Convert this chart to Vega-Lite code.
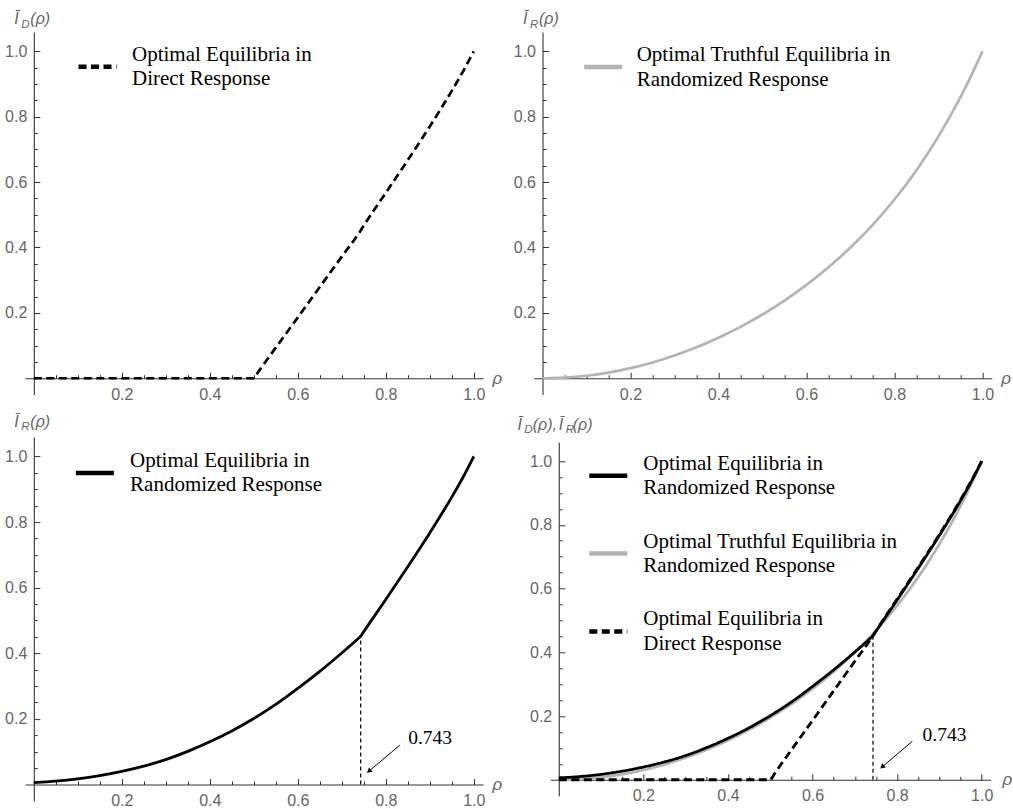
{
  "$schema": "https://vega.github.io/schema/vega-lite/v6.json",
  "autosize": {"type": "pad"},
  "padding": {"left": 4, "top": 11, "right": 0, "bottom": 0},
  "background": "white",
  "datasets": {
    "curves": [
      {"rho": 0, "value": 0, "series": "Truthful"},
      {"rho": 0.05, "value": 0.0019, "series": "Truthful"},
      {"rho": 0.1, "value": 0.0077, "series": "Truthful"},
      {"rho": 0.15, "value": 0.0173, "series": "Truthful"},
      {"rho": 0.2, "value": 0.0308, "series": "Truthful"},
      {"rho": 0.25, "value": 0.0481, "series": "Truthful"},
      {"rho": 0.3, "value": 0.0695, "series": "Truthful"},
      {"rho": 0.35, "value": 0.0946, "series": "Truthful"},
      {"rho": 0.4, "value": 0.1238, "series": "Truthful"},
      {"rho": 0.45, "value": 0.1572, "series": "Truthful"},
      {"rho": 0.5, "value": 0.195, "series": "Truthful"},
      {"rho": 0.55, "value": 0.2376, "series": "Truthful"},
      {"rho": 0.6, "value": 0.2855, "series": "Truthful"},
      {"rho": 0.65, "value": 0.3393, "series": "Truthful"},
      {"rho": 0.7, "value": 0.4, "series": "Truthful"},
      {"rho": 0.75, "value": 0.4686, "series": "Truthful"},
      {"rho": 0.8, "value": 0.5467, "series": "Truthful"},
      {"rho": 0.85, "value": 0.6363, "series": "Truthful"},
      {"rho": 0.9, "value": 0.7397, "series": "Truthful"},
      {"rho": 0.95, "value": 0.8597, "series": "Truthful"},
      {"rho": 0.975, "value": 0.9271, "series": "Truthful"},
      {"rho": 1, "value": 1, "series": "Truthful"},
      {"rho": 0, "value": 0.006, "series": "Randomized"},
      {"rho": 0.05, "value": 0.01, "series": "Randomized"},
      {"rho": 0.1, "value": 0.017, "series": "Randomized"},
      {"rho": 0.15, "value": 0.027, "series": "Randomized"},
      {"rho": 0.2, "value": 0.04, "series": "Randomized"},
      {"rho": 0.25, "value": 0.056, "series": "Randomized"},
      {"rho": 0.3, "value": 0.076, "series": "Randomized"},
      {"rho": 0.35, "value": 0.101, "series": "Randomized"},
      {"rho": 0.4, "value": 0.13, "series": "Randomized"},
      {"rho": 0.45, "value": 0.163, "series": "Randomized"},
      {"rho": 0.5, "value": 0.201, "series": "Randomized"},
      {"rho": 0.55, "value": 0.244, "series": "Randomized"},
      {"rho": 0.6, "value": 0.293, "series": "Randomized"},
      {"rho": 0.65, "value": 0.345, "series": "Randomized"},
      {"rho": 0.7, "value": 0.401, "series": "Randomized"},
      {"rho": 0.735, "value": 0.442, "series": "Randomized"},
      {"rho": 0.743, "value": 0.452, "series": "Randomized"},
      {"rho": 0.75, "value": 0.466, "series": "Randomized"},
      {"rho": 0.8, "value": 0.564, "series": "Randomized"},
      {"rho": 0.85, "value": 0.664, "series": "Randomized"},
      {"rho": 0.9, "value": 0.767, "series": "Randomized"},
      {"rho": 0.95, "value": 0.876, "series": "Randomized"},
      {"rho": 0.975, "value": 0.935, "series": "Randomized"},
      {"rho": 1, "value": 1, "series": "Randomized"},
      {"rho": 0, "value": 0, "series": "Direct"},
      {"rho": 0.1, "value": 0, "series": "Direct"},
      {"rho": 0.2, "value": 0, "series": "Direct"},
      {"rho": 0.3, "value": 0, "series": "Direct"},
      {"rho": 0.4, "value": 0, "series": "Direct"},
      {"rho": 0.49, "value": 0, "series": "Direct"},
      {"rho": 0.5, "value": 0, "series": "Direct"},
      {"rho": 0.51, "value": 0.019, "series": "Direct"},
      {"rho": 0.6, "value": 0.186, "series": "Direct"},
      {"rho": 0.7, "value": 0.372, "series": "Direct"},
      {"rho": 0.743, "value": 0.452, "series": "Direct"},
      {"rho": 0.75, "value": 0.467, "series": "Direct"},
      {"rho": 0.8, "value": 0.567, "series": "Direct"},
      {"rho": 0.85, "value": 0.667, "series": "Direct"},
      {"rho": 0.9, "value": 0.77, "series": "Direct"},
      {"rho": 0.95, "value": 0.879, "series": "Direct"},
      {"rho": 0.975, "value": 0.937, "series": "Direct"},
      {"rho": 1, "value": 1, "series": "Direct"}
    ]
  },
  "config": {
    "view": {"stroke": null},
    "axis": {
      "grid": false, "labelFlush": false, "labelOverlap": false, "labelBound": false,
      "domainColor": "#333333", "domainWidth": 1.1, "tickColor": "#333333", "tickWidth": 1,
      "labelColor": "#666666", "labelFont": "Liberation Sans", "labelFontSize": 16
    },
    "legend": {
      "symbolType": "stroke", "symbolSize": 1444, "symbolStrokeWidth": 4.5,
      "labelFont": "Liberation Serif", "labelFontSize": 21, "labelColor": "black",
      "labelLimit": 600, "padding": 0, "labelBaseline": "line-bottom"
    },
    "style": {"guide-label": {"lineHeight": 24.5}}
  },
  "spacing": 10,
  "vconcat": [
    {
      "bounds": "flush",
      "spacing": 50.7,
      "resolve": {"scale": {"color": "independent", "strokeDash": "independent"}},
      "hconcat": [
        {
          "width": 458, "height": 362.6,
          "resolve": {"axis": {"x": "independent", "y": "independent"}},
          "layer": [
            {
              "data": {"name": "curves"},
              "transform": [{"filter": {"field": "series", "oneOf": ["Direct"]}}],
              "mark": {"type": "line", "strokeWidth": 2.7, "interpolate": "monotone"},
              "encoding": {
                "x": {"field": "rho", "type": "quantitative",
                  "scale": {"domain": [-0.02, 1.021], "nice": false, "zero": false},
                  "axis": {"orient": "bottom", "title": null, "offset": -16.35, "values": [0.2, 0.4, 0.6, 0.8, 1.0], "format": ".1f", "tickSize": -6, "labelPadding": 14}},
                "y": {"field": "value", "type": "quantitative",
                  "scale": {"domain": [-0.05, 1.059], "nice": false, "zero": false},
                  "axis": {"orient": "left", "title": null, "offset": -8.8, "values": [0.2, 0.4, 0.6, 0.8, 1.0], "format": ".1f", "tickSize": -6, "labelPadding": 13}},
                "color": {"field": "series", "type": "nominal",
                  "scale": {"domain": ["Direct"], "range": ["black"]},
                  "legend": {"title": null, "orient": "none", "legendX": 51, "legendY": 13.3, "direction": "vertical", "labelOffset": 13,
                    "labelExpr": "datum.label == 'Direct' ? ['Optimal Equilibria in', 'Direct Response'] : datum.label == 'Randomized' ? ['Optimal Equilibria in', 'Randomized Response'] : ['Optimal Truthful Equilibria in', 'Randomized Response']"}},
                "strokeDash": {"field": "series", "type": "nominal",
                  "scale": {"domain": ["Direct"], "range": [[8, 4.5]]},
                  "legend": {"title": null, "orient": "none", "legendX": 51, "legendY": 13.3, "direction": "vertical", "labelOffset": 13,
                    "labelExpr": "datum.label == 'Direct' ? ['Optimal Equilibria in', 'Direct Response'] : datum.label == 'Randomized' ? ['Optimal Equilibria in', 'Randomized Response'] : ['Optimal Truthful Equilibria in', 'Randomized Response']"}}
              }
            },
            {"data": {"values": [{}]}, "mark": {"type": "text", "text": "ρ", "align": "left", "baseline": "middle", "dx": 9.5, "dy": 1, "font": "Liberation Sans", "fontStyle": "italic", "fontSize": 17, "color": "#666666"},
             "encoding": {
               "x": {"datum": 1.021, "type": "quantitative", "axis": {"orient": "bottom", "title": null, "offset": -16.35, "values": [0.05,0.1,0.15,0.25,0.3,0.35,0.45,0.5,0.55,0.65,0.7,0.75,0.85,0.9,0.95], "labels": false, "domain": false, "tickSize": -3.5}},
               "y": {"datum": 0, "type": "quantitative", "axis": {"orient": "left", "title": null, "offset": -8.8, "values": [0.05,0.1,0.15,0.25,0.3,0.35,0.45,0.5,0.55,0.65,0.7,0.75,0.85,0.9,0.95], "labels": false, "domain": false, "tickSize": -3.5}}}},
            {"data": {"values": [{}]}, "mark": {"type": "text", "text": "Ī", "align": "left", "baseline": "alphabetic", "dx": -19.5, "dy": -7.7, "font": "Liberation Sans", "fontStyle": "italic", "fontSize": 16, "color": "#666666"},
             "encoding": {"x": {"datum": 0, "type": "quantitative", "axis": null}, "y": {"datum": 1.059, "type": "quantitative", "axis": null}}},
            {"data": {"values": [{}]}, "mark": {"type": "text", "text": "D", "align": "left", "baseline": "alphabetic", "dx": -12.5, "dy": -4.2, "font": "Liberation Sans", "fontStyle": "italic", "fontSize": 11.5, "color": "#666666"},
             "encoding": {"x": {"datum": 0, "type": "quantitative", "axis": null}, "y": {"datum": 1.059, "type": "quantitative", "axis": null}}},
            {"data": {"values": [{}]}, "mark": {"type": "text", "text": "(ρ)", "align": "left", "baseline": "alphabetic", "dx": -3.5, "dy": -7.7, "font": "Liberation Sans", "fontStyle": "italic", "fontSize": 16, "color": "#666666"},
             "encoding": {"x": {"datum": 0, "type": "quantitative", "axis": null}, "y": {"datum": 1.059, "type": "quantitative", "axis": null}}}
          ]
        },
        {
          "width": 458, "height": 362.6,
          "resolve": {"axis": {"x": "independent", "y": "independent"}},
          "layer": [
            {
              "data": {"name": "curves"},
              "transform": [{"filter": {"field": "series", "oneOf": ["Truthful"]}}],
              "mark": {"type": "line", "strokeWidth": 2.7, "interpolate": "monotone"},
              "encoding": {
                "x": {"field": "rho", "type": "quantitative",
                  "scale": {"domain": [-0.02, 1.021], "nice": false, "zero": false},
                  "axis": {"orient": "bottom", "title": null, "offset": -16.35, "values": [0.2, 0.4, 0.6, 0.8, 1.0], "format": ".1f", "tickSize": -6, "labelPadding": 14}},
                "y": {"field": "value", "type": "quantitative",
                  "scale": {"domain": [-0.05, 1.059], "nice": false, "zero": false},
                  "axis": {"orient": "left", "title": null, "offset": -8.8, "values": [0.2, 0.4, 0.6, 0.8, 1.0], "format": ".1f", "tickSize": -6, "labelPadding": 13}},
                "color": {"field": "series", "type": "nominal",
                  "scale": {"domain": ["Truthful"], "range": ["#b4b4b4"]},
                  "legend": {"title": null, "orient": "none", "legendX": 48, "legendY": 13.6, "direction": "vertical", "labelOffset": 12,
                    "labelExpr": "datum.label == 'Direct' ? ['Optimal Equilibria in', 'Direct Response'] : datum.label == 'Randomized' ? ['Optimal Equilibria in', 'Randomized Response'] : ['Optimal Truthful Equilibria in', 'Randomized Response']"}}
              }
            },
            {"data": {"values": [{}]}, "mark": {"type": "text", "text": "ρ", "align": "left", "baseline": "middle", "dx": 9.5, "dy": 1, "font": "Liberation Sans", "fontStyle": "italic", "fontSize": 17, "color": "#666666"},
             "encoding": {
               "x": {"datum": 1.021, "type": "quantitative", "axis": {"orient": "bottom", "title": null, "offset": -16.35, "values": [0.05,0.1,0.15,0.25,0.3,0.35,0.45,0.5,0.55,0.65,0.7,0.75,0.85,0.9,0.95], "labels": false, "domain": false, "tickSize": -3.5}},
               "y": {"datum": 0, "type": "quantitative", "axis": {"orient": "left", "title": null, "offset": -8.8, "values": [0.05,0.1,0.15,0.25,0.3,0.35,0.45,0.5,0.55,0.65,0.7,0.75,0.85,0.9,0.95], "labels": false, "domain": false, "tickSize": -3.5}}}},
            {"data": {"values": [{}]}, "mark": {"type": "text", "text": "Ī", "align": "left", "baseline": "alphabetic", "dx": -19.5, "dy": -8, "font": "Liberation Sans", "fontStyle": "italic", "fontSize": 16, "color": "#666666"},
             "encoding": {"x": {"datum": 0, "type": "quantitative", "axis": null}, "y": {"datum": 1.059, "type": "quantitative", "axis": null}}},
            {"data": {"values": [{}]}, "mark": {"type": "text", "text": "R", "align": "left", "baseline": "alphabetic", "dx": -12.5, "dy": -4.5, "font": "Liberation Sans", "fontStyle": "italic", "fontSize": 11.5, "color": "#666666"},
             "encoding": {"x": {"datum": 0, "type": "quantitative", "axis": null}, "y": {"datum": 1.059, "type": "quantitative", "axis": null}}},
            {"data": {"values": [{}]}, "mark": {"type": "text", "text": "(ρ)", "align": "left", "baseline": "alphabetic", "dx": -3.5, "dy": -8, "font": "Liberation Sans", "fontStyle": "italic", "fontSize": 16, "color": "#666666"},
             "encoding": {"x": {"datum": 0, "type": "quantitative", "axis": null}, "y": {"datum": 1.059, "type": "quantitative", "axis": null}}}
          ]
        }
      ]
    },
    {
      "bounds": "flush",
      "spacing": 67.3,
      "center": true,
      "resolve": {"scale": {"color": "independent", "strokeDash": "independent"}},
      "hconcat": [
        {
          "width": 458, "height": 363.8,
          "resolve": {"axis": {"x": "independent", "y": "independent"}},
          "layer": [
            {
              "data": {"name": "curves"},
              "transform": [{"filter": {"field": "series", "oneOf": ["Randomized"]}}],
              "mark": {"type": "line", "strokeWidth": 2.8, "interpolate": "monotone"},
              "encoding": {
                "x": {"field": "rho", "type": "quantitative",
                  "scale": {"domain": [-0.02, 1.021], "nice": false, "zero": false},
                  "axis": {"orient": "bottom", "title": null, "offset": -16.4, "values": [0.2, 0.4, 0.6, 0.8, 1.0], "format": ".1f", "tickSize": -6, "labelPadding": 14}},
                "y": {"field": "value", "type": "quantitative",
                  "scale": {"domain": [-0.05, 1.059], "nice": false, "zero": false},
                  "axis": {"orient": "left", "title": null, "offset": -8.8, "values": [0.2, 0.4, 0.6, 0.8, 1.0], "format": ".1f", "tickSize": -6, "labelPadding": 13}},
                "color": {"field": "series", "type": "nominal",
                  "scale": {"domain": ["Randomized"], "range": ["black"]},
                  "legend": {"title": null, "orient": "none", "legendX": 48.4, "legendY": 14.3, "direction": "vertical", "labelOffset": 13.7,
                    "labelExpr": "datum.label == 'Direct' ? ['Optimal Equilibria in', 'Direct Response'] : datum.label == 'Randomized' ? ['Optimal Equilibria in', 'Randomized Response'] : ['Optimal Truthful Equilibria in', 'Randomized Response']"}}
              }
            },
            {"data": {"values": [{}]}, "mark": {"type": "text", "text": "ρ", "align": "left", "baseline": "middle", "dx": 9.5, "dy": 1, "font": "Liberation Sans", "fontStyle": "italic", "fontSize": 17, "color": "#666666"},
             "encoding": {
               "x": {"datum": 1.021, "type": "quantitative", "axis": {"orient": "bottom", "title": null, "offset": -16.4, "values": [0.05,0.1,0.15,0.25,0.3,0.35,0.45,0.5,0.55,0.65,0.7,0.75,0.85,0.9,0.95], "labels": false, "domain": false, "tickSize": -3.5}},
               "y": {"datum": 0, "type": "quantitative", "axis": {"orient": "left", "title": null, "offset": -8.8, "values": [0.05,0.1,0.15,0.25,0.3,0.35,0.45,0.5,0.55,0.65,0.7,0.75,0.85,0.9,0.95], "labels": false, "domain": false, "tickSize": -3.5}}}},
            {"data": {"values": [{}]}, "mark": {"type": "rule", "strokeDash": [4, 3], "strokeWidth": 1.2, "color": "black"},
             "encoding": {"x": {"datum": 0.743, "type": "quantitative", "axis": null}, "y": {"datum": 0, "type": "quantitative", "axis": null}, "y2": {"datum": 0.452}}},
            {"data": {"values": [{}]}, "mark": {"type": "rule", "strokeWidth": 1, "color": "black"},
             "encoding": {"x": {"datum": 0.832, "type": "quantitative", "axis": null}, "y": {"datum": 0.12, "type": "quantitative", "axis": null}, "x2": {"datum": 0.764}, "y2": {"datum": 0.043}}},
            {"data": {"values": [{}]}, "mark": {"type": "point", "shape": "triangle", "filled": true, "size": 32, "angle": 230, "color": "black", "opacity": 1},
             "encoding": {"x": {"datum": 0.763, "type": "quantitative", "axis": null}, "y": {"datum": 0.042, "type": "quantitative", "axis": null}}},
            {"data": {"values": [{}]}, "mark": {"type": "text", "text": "0.743", "align": "left", "baseline": "alphabetic", "font": "Liberation Serif", "fontSize": 19.5, "color": "black"},
             "encoding": {"x": {"datum": 0.851, "type": "quantitative", "axis": null}, "y": {"datum": 0.124, "type": "quantitative", "axis": null}}},
            {"data": {"values": [{}]}, "mark": {"type": "text", "text": "Ī", "align": "left", "baseline": "alphabetic", "dx": -19.5, "dy": -10.4, "font": "Liberation Sans", "fontStyle": "italic", "fontSize": 16, "color": "#666666"},
             "encoding": {"x": {"datum": 0, "type": "quantitative", "axis": null}, "y": {"datum": 1.059, "type": "quantitative", "axis": null}}},
            {"data": {"values": [{}]}, "mark": {"type": "text", "text": "R", "align": "left", "baseline": "alphabetic", "dx": -12.5, "dy": -6.9, "font": "Liberation Sans", "fontStyle": "italic", "fontSize": 11.5, "color": "#666666"},
             "encoding": {"x": {"datum": 0, "type": "quantitative", "axis": null}, "y": {"datum": 1.059, "type": "quantitative", "axis": null}}},
            {"data": {"values": [{}]}, "mark": {"type": "text", "text": "(ρ)", "align": "left", "baseline": "alphabetic", "dx": -3.5, "dy": -10.4, "font": "Liberation Sans", "fontStyle": "italic", "fontSize": 16, "color": "#666666"},
             "encoding": {"x": {"datum": 0, "type": "quantitative", "axis": null}, "y": {"datum": 1.059, "type": "quantitative", "axis": null}}}
          ]
        },
        {
          "width": 440.3, "height": 353.4,
          "resolve": {"axis": {"x": "independent", "y": "independent"}},
          "layer": [
            {
              "data": {"name": "curves"},
              "mark": {"type": "line", "strokeWidth": 2.8, "interpolate": "monotone"},
              "encoding": {
                "x": {"field": "rho", "type": "quantitative",
                  "scale": {"domain": [-0.02, 1.021], "nice": false, "zero": false},
                  "axis": {"orient": "bottom", "title": null, "offset": -15.93, "values": [0.2, 0.4, 0.6, 0.8, 1.0], "format": ".1f", "tickSize": -6, "labelPadding": 14}},
                "y": {"field": "value", "type": "quantitative",
                  "scale": {"domain": [-0.05, 1.059], "nice": false, "zero": false},
                  "axis": {"orient": "left", "title": null, "offset": -8.46, "values": [0.2, 0.4, 0.6, 0.8, 1.0], "format": ".1f", "tickSize": -6, "labelPadding": 13}},
                "color": {"field": "series", "type": "nominal",
                  "scale": {"domain": ["Randomized", "Truthful", "Direct"], "range": ["black", "#b4b4b4", "black"]},
                  "legend": {"title": null, "orient": "none", "legendX": 36.5, "legendY": 12, "direction": "vertical", "labelOffset": 13.5, "rowPadding": 31.8,
                    "labelExpr": "datum.label == 'Direct' ? ['Optimal Equilibria in', 'Direct Response'] : datum.label == 'Randomized' ? ['Optimal Equilibria in', 'Randomized Response'] : ['Optimal Truthful Equilibria in', 'Randomized Response']"}},
                "strokeDash": {"field": "series", "type": "nominal",
                  "scale": {"domain": ["Randomized", "Truthful", "Direct"], "range": [[1, 0], [1, 0], [8, 4.5]]},
                  "legend": {"title": null, "orient": "none", "legendX": 36.5, "legendY": 12, "direction": "vertical", "labelOffset": 13.5, "rowPadding": 31.8,
                    "labelExpr": "datum.label == 'Direct' ? ['Optimal Equilibria in', 'Direct Response'] : datum.label == 'Randomized' ? ['Optimal Equilibria in', 'Randomized Response'] : ['Optimal Truthful Equilibria in', 'Randomized Response']"}}
              }
            },
            {"data": {"values": [{}]}, "mark": {"type": "text", "text": "ρ", "align": "left", "baseline": "middle", "dx": 12, "dy": 0.5, "font": "Liberation Sans", "fontStyle": "italic", "fontSize": 17, "color": "#666666"},
             "encoding": {
               "x": {"datum": 1.021, "type": "quantitative", "axis": {"orient": "bottom", "title": null, "offset": -15.93, "values": [0.05,0.1,0.15,0.25,0.3,0.35,0.45,0.5,0.55,0.65,0.7,0.75,0.85,0.9,0.95], "labels": false, "domain": false, "tickSize": -3.5}},
               "y": {"datum": 0, "type": "quantitative", "axis": {"orient": "left", "title": null, "offset": -8.46, "values": [0.05,0.1,0.15,0.25,0.3,0.35,0.45,0.5,0.55,0.65,0.7,0.75,0.85,0.9,0.95], "labels": false, "domain": false, "tickSize": -3.5}}}},
            {"data": {"values": [{}]}, "mark": {"type": "rule", "strokeDash": [4, 3], "strokeWidth": 1.2, "color": "black"},
             "encoding": {"x": {"datum": 0.743, "type": "quantitative", "axis": null}, "y": {"datum": 0, "type": "quantitative", "axis": null}, "y2": {"datum": 0.452}}},
            {"data": {"values": [{}]}, "mark": {"type": "rule", "strokeWidth": 1, "color": "black"},
             "encoding": {"x": {"datum": 0.836, "type": "quantitative", "axis": null}, "y": {"datum": 0.121, "type": "quantitative", "axis": null}, "x2": {"datum": 0.767}, "y2": {"datum": 0.043}}},
            {"data": {"values": [{}]}, "mark": {"type": "point", "shape": "triangle", "filled": true, "size": 32, "angle": 230, "color": "black", "opacity": 1},
             "encoding": {"x": {"datum": 0.766, "type": "quantitative", "axis": null}, "y": {"datum": 0.042, "type": "quantitative", "axis": null}}},
            {"data": {"values": [{}]}, "mark": {"type": "text", "text": "0.743", "align": "left", "baseline": "alphabetic", "font": "Liberation Serif", "fontSize": 19.5, "color": "black"},
             "encoding": {"x": {"datum": 0.86, "type": "quantitative", "axis": null}, "y": {"datum": 0.122, "type": "quantitative", "axis": null}}},
            {"data": {"values": [{}]}, "mark": {"type": "text", "text": "Ī", "align": "left", "baseline": "alphabetic", "dx": -41.3, "dy": -12.5, "font": "Liberation Sans", "fontStyle": "italic", "fontSize": 16, "color": "#666666"},
             "encoding": {"x": {"datum": 0, "type": "quantitative", "axis": null}, "y": {"datum": 1.059, "type": "quantitative", "axis": null}}},
            {"data": {"values": [{}]}, "mark": {"type": "text", "text": "D", "align": "left", "baseline": "alphabetic", "dx": -34.5, "dy": -9, "font": "Liberation Sans", "fontStyle": "italic", "fontSize": 11.5, "color": "#666666"},
             "encoding": {"x": {"datum": 0, "type": "quantitative", "axis": null}, "y": {"datum": 1.059, "type": "quantitative", "axis": null}}},
            {"data": {"values": [{}]}, "mark": {"type": "text", "text": "(ρ),", "align": "left", "baseline": "alphabetic", "dx": -26, "dy": -12.5, "font": "Liberation Sans", "fontStyle": "italic", "fontSize": 16, "color": "#666666"},
             "encoding": {"x": {"datum": 0, "type": "quantitative", "axis": null}, "y": {"datum": 1.059, "type": "quantitative", "axis": null}}},
            {"data": {"values": [{}]}, "mark": {"type": "text", "text": "Ī", "align": "left", "baseline": "alphabetic", "dx": 0, "dy": -12.5, "font": "Liberation Sans", "fontStyle": "italic", "fontSize": 16, "color": "#666666"},
             "encoding": {"x": {"datum": 0, "type": "quantitative", "axis": null}, "y": {"datum": 1.059, "type": "quantitative", "axis": null}}},
            {"data": {"values": [{}]}, "mark": {"type": "text", "text": "R", "align": "left", "baseline": "alphabetic", "dx": 7, "dy": -9, "font": "Liberation Sans", "fontStyle": "italic", "fontSize": 11.5, "color": "#666666"},
             "encoding": {"x": {"datum": 0, "type": "quantitative", "axis": null}, "y": {"datum": 1.059, "type": "quantitative", "axis": null}}},
            {"data": {"values": [{}]}, "mark": {"type": "text", "text": "(ρ)", "align": "left", "baseline": "alphabetic", "dx": 14, "dy": -12.5, "font": "Liberation Sans", "fontStyle": "italic", "fontSize": 16, "color": "#666666"},
             "encoding": {"x": {"datum": 0, "type": "quantitative", "axis": null}, "y": {"datum": 1.059, "type": "quantitative", "axis": null}}}
          ]
        }
      ]
    }
  ]
}
